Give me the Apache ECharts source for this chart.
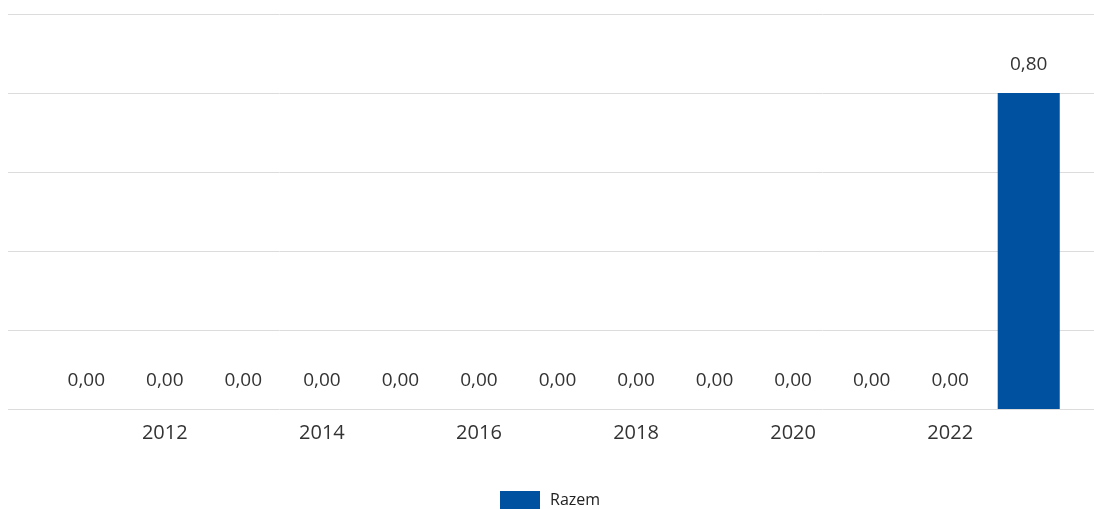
<!DOCTYPE html>
<html>
<head>
<meta charset="utf-8">
<script src="https://cdn.jsdelivr.net/npm/echarts@6/dist/echarts.min.js"></script>
<style>
  html, body { margin: 0; padding: 0; background: #fff; }
  #chart { width: 1094px; height: 510px; }
</style>
</head>
<body>
<div id="chart"></div>
<script>
// dane
const years = ['2011', '2012', '2013', '2014', '2015', '2016', '2017', '2018', '2019', '2020', '2021', '2022', '2023'];
const razem = [0, 0, 0, 0, 0, 0, 0, 0, 0, 0, 0, 0, 0.8];
const seriesName = 'Razem';

const chart = echarts.init(document.getElementById('chart'));

const fontFamily = '"Open Sans", "Noto Sans", sans-serif';

const option = {
    textStyle: { fontFamily: fontFamily },
    legend: {
        data: [seriesName],
        top: 486,
        left: 495,
        icon: 'rect',
        itemWidth: 40,
        itemHeight: 18,
        textStyle: { fontSize: 16, color: '#222', fontFamily: fontFamily, padding: [0, 0, 0, 5] }
    },
    grid: [
        // siatka na całą szerokość (tylko linie pomocnicze)
        { left: 8, right: 0, top: 14, bottom: 101 },
        // słupki
        { left: 47, right: 26, top: 14, bottom: 101 }
    ],
    xAxis: [
        { gridIndex: 0, type: 'value', show: false },
        {
            gridIndex: 1,
            type: 'category',
            data: years,
            axisLine: { show: false },
            axisTick: { show: false },
            axisLabel: {
                interval: function (index) { return index % 2 === 1; },
                margin: 14,
                fontSize: 20,
                color: '#333',
                fontFamily: fontFamily
            }
        }
    ],
    yAxis: [
        {
            gridIndex: 0,
            type: 'value',
            min: 0,
            max: 1,
            interval: 0.2,
            axisLabel: { show: false },
            axisLine: { show: false },
            axisTick: { show: false },
            splitLine: { lineStyle: { color: '#dcdcdc', width: 1 } }
        },
        {
            gridIndex: 1,
            type: 'value',
            min: 0,
            max: 1,
            interval: 0.2,
            show: false,
            splitLine: { show: false }
        }
    ],
    series: [
        {
            name: seriesName,
            type: 'bar',
            xAxisIndex: 1,
            yAxisIndex: 1,
            data: razem,
            barWidth: '79%',
            itemStyle: { color: '#0052a1' },
            label: {
                show: true,
                position: 'top',
                distance: 19,
                fontSize: 19,
                color: '#333',
                fontFamily: fontFamily,
                formatter: function (p) { return p.value.toFixed(2).replace('.', ','); }
            }
        }
    ]
};

chart.setOption(option);
</script>
</body>
</html>
